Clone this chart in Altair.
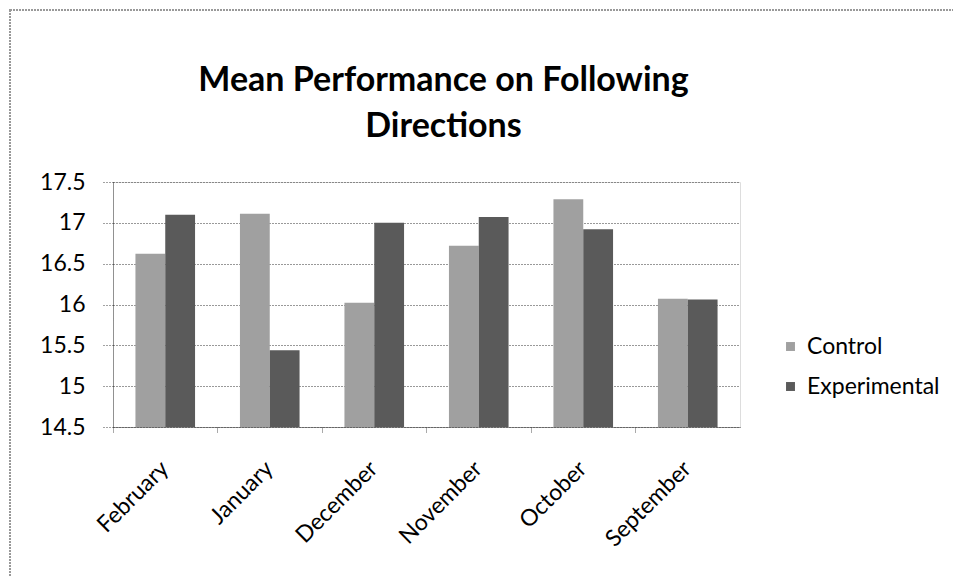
import altair as alt
import pandas as pd

months = ["February", "January", "December", "November", "October", "September"]
control = [16.62, 17.11, 16.02, 16.72, 17.29, 16.07]
experimental = [17.10, 15.44, 17.00, 17.07, 16.92, 16.06]
groups = ["Control", "Experimental"]

rows = []
for m, c, e in zip(months, control, experimental):
    rows.append({"month": m, "group": "Control", "value": c})
    rows.append({"month": m, "group": "Experimental", "value": e})
df = pd.DataFrame(rows)

FONT = "Lato"

bars = alt.Chart(df).mark_bar(clip=True).encode(
    x=alt.X("month:N", sort=months, title=None,
            scale=alt.Scale(paddingInner=0, paddingOuter=0),
            axis=alt.Axis(labelAngle=-45, labelAlign="right", labelBaseline="top",
                          labelFontSize=23, labelFont=FONT, labelColor="#000",
                          bandPosition=0, labelOffset=-8,
                          ticks=True, tickSize=6, tickColor="#555", tickDash=[1, 1],
                          domainColor="#444", domainDash=[1, 1],
                          labelPadding=24, grid=False)),
    xOffset=alt.XOffset("group:N", sort=groups,
                        scale=alt.Scale(paddingInner=0, paddingOuter=0.753)),
    y=alt.Y("value:Q", title=None,
            scale=alt.Scale(domain=[14.5, 17.5], zero=False, nice=False),
            axis=alt.Axis(values=[14.5, 15, 15.5, 16, 16.5, 17, 17.5], format="~g",
                          labelFontSize=23, labelFont=FONT, labelColor="#000",
                          gridColor="#333", gridDash=[1, 2], gridWidth=1,
                          domainColor="#444", domainDash=[1, 1],
                          tickColor="#444", tickDash=[1, 2], tickSize=10, labelPadding=18)),
    color=alt.Color("group:N", sort=groups,
                    scale=alt.Scale(domain=groups, range=["#a0a0a0", "#5a5a5a"]),
                    legend=alt.Legend(title=None, orient="none", legendX=666, legendY=153,
                                      symbolType="square", symbolSize=80,
                                      labelFontSize=23, labelFont=FONT, labelColor="#000",
                                      rowPadding=16, labelOffset=5, symbolStrokeWidth=0)),
)

frame = alt.Chart(df).mark_rect(fill=None, stroke="#999", strokeWidth=2, strokeDash=[2, 1],
                                clip=False).encode(
    x=alt.value(-103), x2=alt.value(900), y=alt.value(-172), y2=alt.value(500)
)

chart = alt.layer(frame, bars).properties(
    width=627, height=245,
    title=alt.Title(["Mean Performance on Following", "Directions"],
                    fontSize=34, font=FONT, fontWeight="bold", color="#000",
                    anchor="middle", frame="group", dx=17, offset=-135, lineHeight=46),
    padding={"left": 105, "top": 174, "right": 213, "bottom": 149},
    autosize=alt.AutoSizeParams(type="none"),
).configure_view(stroke=None).configure(background="white")

chart.save("out.html", embed_options={"renderer": "svg", "actions": False})
